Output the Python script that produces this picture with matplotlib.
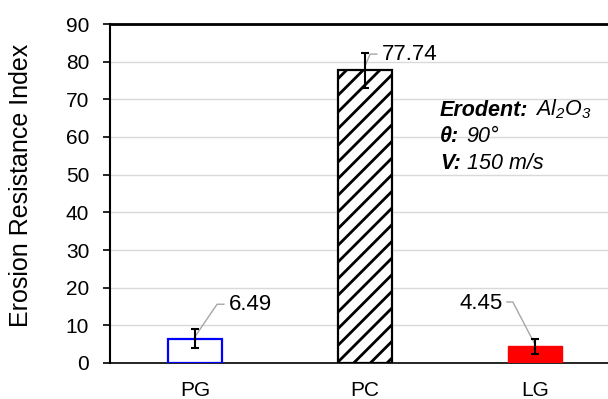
import matplotlib
matplotlib.use("Agg")
import matplotlib.pyplot as plt
from matplotlib.offsetbox import TextArea, HPacker, AnnotationBbox
import numpy as np

plt.rcParams['font.family'] = ['Liberation Sans', 'DejaVu Sans']
plt.rcParams['mathtext.fontset'] = 'custom'
plt.rcParams['mathtext.rm'] = 'Liberation Sans:italic'
plt.rcParams['mathtext.it'] = 'Liberation Sans:italic'
plt.rcParams['mathtext.bf'] = 'Liberation Sans:italic:bold'
plt.rcParams['hatch.linewidth'] = 2.0

categories = ["PG", "PC", "LG"]
values = [6.49, 77.74, 4.45]
errors = [2.6, 4.6, 2.0]
labels = ["6.49", "77.74", "4.45"]
info_keys = ["Erodent:", "θ:", "V:"]
info_vals = ["Al$_2$O$_3$", "90°", "150 m/s"]

fig = plt.figure(figsize=(6.08, 3.99), dpi=100)
ax = fig.add_axes([110/608, 1-363/399, 1-110/608, (363-24)/399])

x = np.arange(len(categories))
w = 0.32
ax.bar(x[0], values[0], w, facecolor='white', edgecolor='#0000FF', linewidth=1.6, zorder=3)
ax.bar(x[1], values[1], w, facecolor='white', edgecolor='black', linewidth=1.6, hatch='//', zorder=3)
ax.bar(x[2], values[2], w, facecolor='#FF0000', edgecolor='#FF0000', linewidth=1.0, zorder=3)
ax.errorbar(x, values, yerr=errors, fmt='none', ecolor='black', elinewidth=1.5, capsize=2.6, capthick=1.5, zorder=5)

ax.set_xlim(-0.5, 2.43)
ax.set_ylim(0, 90)
ax.set_yticks(np.arange(0, 91, 10))
ax.set_xticks(x)
ax.set_xticklabels(categories, fontsize=15)
ax.tick_params(axis='x', length=0, pad=13)
ax.tick_params(axis='y', labelsize=15, length=5, width=1.2, direction='out', pad=10)
ax.yaxis.grid(True, color='#D9D9D9', linewidth=1.0, zorder=0)
ax.set_axisbelow(True)
ax.set_ylabel("Erosion Resistance Index", fontsize=18)
ax.yaxis.set_label_coords((33 - 110) / 498, 0.525)

ax.spines['left'].set_linewidth(1.5)
ax.spines['bottom'].set_linewidth(1.2)
ax.spines['top'].set_linewidth(2.0)
ax.spines['right'].set_visible(False)

# leader lines
leaders = [
    ([x[0], 0.13, 0.17], [values[0] + 0.5, 15.6, 15.6]),
    ([x[1], 1.03, 1.07], [values[1] + 1.0, 82.0, 82.0]),
    ([x[2], 1.87, 1.835], [values[2] + 0.5, 16.2, 16.2]),
]
for xs, ys in leaders:
    ax.plot(xs, ys, color='#A6A6A6', linewidth=1.0, zorder=4)

ax.text(0.20, 15.4, labels[0], fontsize=16, ha='left', va='center', zorder=6)
ax.text(1.10, 81.8, labels[1], fontsize=16, ha='left', va='center', zorder=6)
ax.text(1.81, 15.9, labels[2], fontsize=16, ha='right', va='center', zorder=6)

info_y = [67.0, 59.8, 52.7]
for k, v, yy in zip(info_keys, info_vals, info_y):
    box = HPacker(children=[
        TextArea(k, textprops=dict(fontweight='bold', style='italic', fontsize=15.5)),
        TextArea(v, textprops=dict(style='italic', fontsize=15.5)),
    ], align='baseline', pad=0, sep=5)
    ab = AnnotationBbox(box, (1.44, yy), xycoords='data', box_alignment=(0, 0.45),
                        frameon=False, pad=0)
    ax.add_artist(ab)

fig.savefig("out.png", dpi=100)
